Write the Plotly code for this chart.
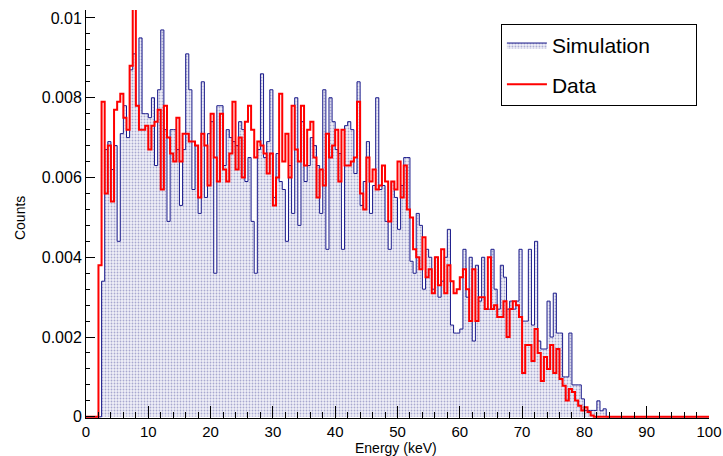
import numpy as np
import plotly.graph_objects as go

# 200 bins of 0.5 keV from 0 to 100 keV
bin_edges = np.linspace(0.0, 100.0, 201)

simulation = [
    0, 0, 0, 0, 0, 0.0034, 0.0067, 0.0069, 0.0062, 0.0068,
    0.0044, 0.0071, 0.0078, 0.0070, 0.0087, 0.0091, 0.0078, 0.0095, 0.0076, 0.0076,
    0.0075, 0.0080, 0.0063, 0.0082, 0.0097, 0.0072, 0.0049, 0.0072, 0.0072, 0.0067,
    0.0053, 0.0067, 0.0091, 0.0082, 0.0057, 0.0068, 0.0051, 0.0084, 0.0055, 0.0071,
    0.0074, 0.0036, 0.0078, 0.0078, 0.0063, 0.0072, 0.0070, 0.0069, 0.0068, 0.0074,
    0.0072, 0.0059, 0.0065, 0.0049, 0.0036, 0.0067, 0.0086, 0.0065, 0.0069, 0.0082,
    0.0055, 0.0066, 0.0059, 0.0057, 0.0044, 0.0063, 0.0051, 0.0080, 0.0048, 0.0074,
    0.0059, 0.0063, 0.0070, 0.0068, 0.0063, 0.0051, 0.0082, 0.0042, 0.0080, 0.0074,
    0.0067, 0.0066, 0.0042, 0.0073, 0.0074, 0.0072, 0.0061, 0.0084, 0.0053, 0.0059,
    0.0069, 0.0051, 0.0058, 0.0080, 0.0057, 0.0058, 0.0049, 0.0042, 0.0059, 0.0055,
    0.0047, 0.0058, 0.0065, 0.0065, 0.0039, 0.0036, 0.0051, 0.0048, 0.0032, 0.0042,
    0.0040, 0.0032, 0.0040, 0.0030, 0.0034, 0.0040, 0.0047, 0.0023, 0.0021, 0.0021,
    0.0022, 0.0042, 0.0030, 0.0040, 0.0019, 0.0038, 0.0029, 0.0040, 0.0027, 0.0027,
    0.0042, 0.0032, 0.0027, 0.0038, 0.0035, 0.0027, 0.0029, 0.0027, 0.0029, 0.0042,
    0.0024, 0.0024, 0.0042, 0.0023, 0.0044, 0.0019, 0.0017, 0.0017, 0.0029, 0.0020,
    0.0031, 0.0021, 0.0021, 0.0010, 0.0010, 0.0021, 0.0008, 0.0008, 0.0008, 0.00045,
    0.00016, 0.00016, 0.00016, 0.00016, 0.0004, 0.00015, 0.0002, 0, 0, 0,
    0, 0, 0, 0, 0, 0, 0, 0, 0, 0,
    0, 0, 0, 0, 0, 0, 0, 0, 0, 0,
    0, 0, 0, 0, 0, 0, 0, 0, 0, 0,
]

data = [
    0, 0, 0, 0, 0.0038, 0.0079, 0.0056, 0.0068, 0.0054, 0.0077,
    0.0079, 0.0081, 0.0075, 0.0072, 0.0088, 0.0104, 0.0078, 0.0072, 0.0072, 0.0073,
    0.0067, 0.0073, 0.0074, 0.0077, 0.0057, 0.0078, 0.0070, 0.0066, 0.0064, 0.0075,
    0.0064, 0.0071, 0.0071, 0.0069, 0.0069, 0.0068, 0.0055, 0.0071, 0.0068, 0.0058,
    0.0076, 0.0065, 0.0059, 0.0076, 0.0062, 0.0059, 0.0066, 0.0079, 0.0062, 0.0070,
    0.0060, 0.0074, 0.0078, 0.0072, 0.0065, 0.0069, 0.0068, 0.0066, 0.0061, 0.0066,
    0.0053, 0.0060, 0.0081, 0.0064, 0.0071, 0.0060, 0.0078, 0.0067, 0.0064, 0.0078,
    0.0063, 0.0072, 0.0074, 0.0065, 0.0055, 0.0062, 0.0058, 0.0071, 0.0065, 0.0068,
    0.0072, 0.0059, 0.0072, 0.0063, 0.0063, 0.0064, 0.0065, 0.0079, 0.0056, 0.0052,
    0.0065, 0.0059, 0.0062, 0.0057, 0.0058, 0.0063, 0.0059, 0.0049, 0.0059, 0.0057,
    0.0064, 0.0055, 0.0063, 0.0052, 0.0050, 0.0042, 0.0040, 0.0037, 0.0045, 0.0035,
    0.0037, 0.0031, 0.0040, 0.0033, 0.0042, 0.0031, 0.0038, 0.0034, 0.0031, 0.0032,
    0.0035, 0.0037, 0.0032, 0.0024, 0.0037, 0.0024, 0.0030, 0.0030, 0.0027, 0.0040,
    0.0027, 0.0028, 0.0025, 0.0025, 0.0029, 0.0020, 0.0027, 0.0029, 0.0028, 0.0025,
    0.0011, 0.0018, 0.0018, 0.0014, 0.0022, 0.0016, 0.0009, 0.0015, 0.0012, 0.0018,
    0.0011, 0.0017, 0.00095, 0.00078, 0.00041, 0.0007, 0.00062, 0.00041, 0.00028, 0.00016,
    0.00024, 0.00012, 0.00003, 0, 0, 0, 0, 0, 0, 0,
    0, 0, 0, 0, 0, 0, 0, 0, 0, 0,
    0, 0, 0, 0, 0, 0, 0, 0, 0, 0,
    0, 0, 0, 0, 0, 0, 0, 0, 0, 0,
]

x_tick_vals = [0, 10, 20, 30, 40, 50, 60, 70, 80, 90, 100]
x_tick_text = ["0", "10", "20", "30", "40", "50", "60", "70", "80", "90", "100"]
y_tick_vals = [0, 0.002, 0.004, 0.006, 0.008, 0.01]
y_tick_text = ["0", "0.002", "0.004", "0.006", "0.008", "0.01"]
x_title = "Energy (keV)"
y_title = "Counts"

FONT = "Liberation Sans, Arial, Helvetica, sans-serif"
PAD = "\u00a0" * 7


def step_xy(values):
    xs = list(bin_edges)
    ys = list(values) + [values[-1]]
    return xs, ys


sx, sy = step_xy(simulation)
dx, dy = step_xy(data)

fig = go.Figure()
fig.add_trace(go.Scatter(
    x=sx, y=sy, mode="lines", line_shape="hv", name="Simulation" + PAD,
    legendgroup="sim",
    line=dict(color="#1a1a8a", width=1),
    fill="tozeroy",
    fillcolor="rgba(200,200,225,1)",
    fillpattern=dict(shape=".", fgcolor="#6060a8", bgcolor="#f0f0f8",
                     size=3, solidity=0.3),
))
fig.add_trace(go.Scatter(
    x=dx, y=dy, mode="lines", line_shape="hv", name="Data",
    legendgroup="dat",
    line=dict(color="#ff0000", width=2),
))

fig.update_layout(
    width=723, height=456,
    margin=dict(l=86, r=14, t=10, b=38),
    paper_bgcolor="white", plot_bgcolor="white",
    font=dict(family=FONT, color="black", size=16),
    showlegend=True,
    legend=dict(
        x=0.666, y=0.966, xanchor="left", yanchor="top",
        bgcolor="white", bordercolor="black", borderwidth=1,
        font=dict(family=FONT, size=21, color="black"),
        itemwidth=40, tracegroupgap=9,
    ),
    annotations=[
        dict(text=x_title, xref="paper", yref="paper", x=0.497, y=-0.0725,
             xanchor="center", yanchor="middle", showarrow=False,
             font=dict(family=FONT, size=14, color="black")),
        dict(text=y_title, xref="paper", yref="paper", x=-0.106, y=0.49,
             xanchor="center", yanchor="middle", showarrow=False, textangle=-90,
             font=dict(family=FONT, size=14, color="black")),
    ],
)
fig.update_xaxes(
    range=[0, 100], showgrid=False, zeroline=False, automargin=False,
    showline=True, linecolor="black", linewidth=1,
    ticks="inside", ticklen=12, tickcolor="black", tickwidth=1,
    tickvals=x_tick_vals, ticktext=x_tick_text,
    tickfont=dict(size=15),
    minor=dict(dtick=2, ticks="inside", ticklen=6, tickcolor="black", showgrid=False),
)
fig.update_yaxes(
    range=[-0.00003, 0.0102], showgrid=False, zeroline=False, automargin=False,
    showline=True, linecolor="black", linewidth=1,
    ticks="inside", ticklen=9, tickcolor="black", tickwidth=1,
    tickvals=y_tick_vals, ticktext=y_tick_text,
    tickfont=dict(size=16),
    minor=dict(dtick=0.0004, ticks="inside", ticklen=4, tickcolor="black", showgrid=False),
)

fig.write_html(
    "out.html",
    config={"displayModeBar": False},
    post_script="document.body.style.margin='0px';document.body.style.overflow='hidden';",
)
